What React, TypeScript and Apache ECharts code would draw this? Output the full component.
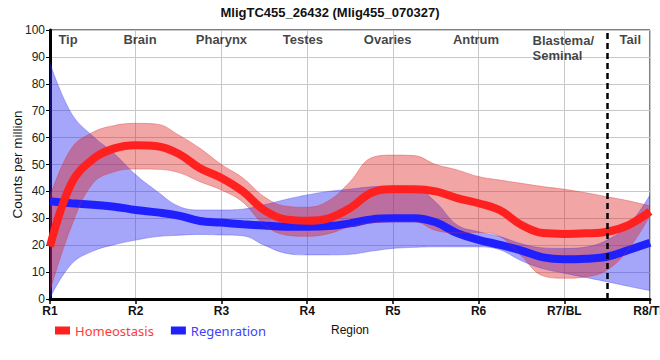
import React, { useEffect, useRef } from "react";
import * as echarts from "echarts";

const categories = ["R1", "R2", "R3", "R4", "R5", "R6", "R7/BL", "R8/TL"];
const xs = [1, 1.25, 1.5, 1.75, 2, 2.25, 2.5, 2.75, 3, 3.25, 3.5, 3.75, 4, 4.25, 4.5, 4.75, 5, 5.25, 5.5, 5.75, 6, 6.25, 6.5, 6.75, 7, 7.25, 7.5, 7.75, 8];

const homeoMean = [19.5, 43, 52, 56, 57.2, 56.8, 54, 48.6, 45, 40, 33, 29.6, 29.1, 30, 33.8, 39.5, 40.8, 40.8, 40, 37.5, 35.6, 33, 27.5, 24.5, 24.2, 24.4, 25, 27.5, 32.5];
const homeoUpper = [38, 56, 62, 64.5, 65.3, 65, 61, 56, 50, 45, 38, 34.5, 34.1, 36.5, 43.6, 52.5, 53.5, 53.3, 50, 48, 45.5, 44.2, 43, 41.8, 40.8, 39.5, 38, 36.5, 34.6];
const homeoLower = [3, 27, 43, 47.3, 48.3, 48.2, 47, 43.6, 40.5, 36, 27.5, 23.8, 23.3, 24.3, 26.9, 28.3, 28.7, 28.7, 25.5, 24.6, 24.7, 23.2, 16, 8.6, 7.7, 8.2, 10.8, 18.5, 31];

const regenMean = [36.3, 35.6, 35, 34.3, 33.1, 32.2, 31, 29, 28.4, 27.8, 27.3, 26.9, 26.9, 27.1, 28.1, 29.6, 30, 30, 28.5, 24.5, 22, 20.1, 18, 15.5, 14.8, 15, 15.7, 18.2, 20.9];
const regenUpper = [87.6, 69, 60.5, 54, 46.2, 40, 34.5, 33.1, 33.1, 33.4, 35, 37, 38.7, 40, 40.8, 41.7, 42, 41.5, 36, 27.5, 25, 23.2, 20.5, 19, 18.8, 19.3, 21.9, 27.5, 38.7];
const regenLower = [0.4, 13, 17.8, 20.2, 21.9, 23.2, 23.7, 24, 23.8, 23.5, 20, 17, 16.4, 16.4, 16.6, 17.8, 18.8, 19.2, 19.4, 19.4, 19.4, 18.3, 14.2, 11.3, 9.6, 8, 6.4, 4.7, 3.1];

const regionNames = ["Tip", "Brain", "Pharynx", "Testes", "Ovaries", "Antrum", "Blastema/\nSeminal", "Tail"];
const regionX = [1.21, 2.05, 3.0, 3.95, 4.94, 5.97, 6.63, 7.77];
const regionY = [96.3, 96.3, 96.3, 96.3, 96.3, 96.3, 96.3, 96.3];
const boundaryX = [7.5];

const SMOOTH = 0.4;

function band(name: string, lower: number[], upper: number[], fill: string, edge: string) {
  return [
    {
      name: name + "_lo",
      type: "line",
      stack: name,
      smooth: SMOOTH,
      symbol: "none",
      silent: true,
      lineStyle: { width: 1, color: edge },
      data: lower,
    },
    {
      name: name + "_band",
      type: "line",
      stack: name,
      smooth: SMOOTH,
      symbol: "none",
      silent: true,
      lineStyle: { width: 1, color: edge },
      areaStyle: { color: fill, opacity: 1 },
      data: upper.map((u, i) => +(u - lower[i]).toFixed(2)),
    },
  ];
}

export default function App() {
  const ref = useRef<HTMLDivElement>(null);
  useEffect(() => {
    document.body.style.margin = "0";
    const chart = echarts.init(ref.current!, null, { renderer: "svg" });
    const font = "Liberation Sans, Arial, sans-serif";
    const isInt = (i: number) => Math.abs(xs[i] - Math.round(xs[i])) < 1e-9;
    chart.setOption({
      animation: false,
      textStyle: { fontFamily: font },
      title: {
        text: "MligTC455_26432 (Mlig455_070327)",
        left: "center",
        top: 1,
        textStyle: { fontSize: 13, fontWeight: "bold", color: "#111", fontFamily: font },
      },
      legend: {
        left: 55,
        top: 324,
        padding: 0,
        icon: "rect",
        itemWidth: 15,
        itemHeight: 8,
        itemGap: 17,
        textStyle: { fontSize: 13, fontFamily: "Noto Sans, sans-serif" },
        data: [
          { name: "Homeostasis", textStyle: { color: "#ff3a3a" } },
          { name: "Regenration", textStyle: { color: "#4040ff" } },
        ],
      },
      grid: {
        left: 50,
        right: 10,
        top: 30,
        bottom: 61,
        show: true,
        borderColor: "#000",
        borderWidth: 1,
        containLabel: false,
        outerBoundsMode: "none",
      },
      xAxis: [
        {
          type: "category",
          data: xs.map(String),
          boundaryGap: false,
          name: "Region",
          nameLocation: "middle",
          nameGap: 25,
          nameMoveOverlap: false,
          nameTextStyle: { fontSize: 12, color: "#111" },
          axisLine: { lineStyle: { color: "#000", width: 3 } },
          axisTick: { show: true, length: 5, interval: (i: number) => isInt(i), lineStyle: { color: "#000", width: 1.5 } },
          axisLabel: {
            fontSize: 12,
            fontWeight: "bold",
            color: "#111",
            margin: 6,
            interval: (i: number) => isInt(i),
            formatter: (v: string) => categories[Math.round(Number(v)) - 1] ?? "",
          },
          splitLine: { show: true, interval: (i: number) => isInt(i), lineStyle: { color: "#c8c8c8", width: 1 } },
        },
        {
          type: "value",
          min: 1,
          max: 8,
          interval: 1,
          show: false,
          splitLine: { show: false },
        },
      ],
      yAxis: {
        type: "value",
        min: 0,
        max: 100,
        interval: 10,
        name: "Counts per million",
        nameLocation: "middle",
        nameGap: 26,
        nameMoveOverlap: false,
        nameTextStyle: { fontSize: 13.5, color: "#111" },
        axisLine: { show: true, lineStyle: { color: "#000", width: 3 } },
        axisTick: { show: true, length: 4, lineStyle: { color: "#000", width: 1 } },
        axisLabel: { fontSize: 12, color: "#222", margin: 5 },
        splitLine: { show: true, lineStyle: { color: "#c8c8c8", width: 1 } },
      },
      series: [
        ...band("regen", regenLower, regenUpper, "rgba(40,40,240,0.42)", "rgba(60,60,240,0.35)"),
        {
          name: "Regenration",
          type: "line",
          smooth: SMOOTH,
          symbol: "none",
          itemStyle: { color: "#2020ff" },
          lineStyle: { width: 8, color: "#2020ff" },
          data: regenMean,
        },
        ...band("homeo", homeoLower, homeoUpper, "rgba(220,30,30,0.4)", "rgba(220,50,50,0.35)"),
        {
          name: "Homeostasis",
          type: "line",
          smooth: SMOOTH,
          symbol: "none",
          itemStyle: { color: "#ff2020" },
          lineStyle: { width: 8, color: "#ff2020" },
          data: homeoMean,
        },
        {
          name: "regions",
          type: "scatter",
          xAxisIndex: 1,
          symbolSize: 0,
          silent: true,
          data: regionNames.map((n, i) => ({
            name: n,
            value: [regionX[i], regionY[i]],
            label: i === 6 ? { align: "left", verticalAlign: "top", position: [0, -7] } : undefined,
          })),
          label: {
            show: true,
            position: "inside",
            formatter: (p: any) => p.name,
            fontSize: 13,
            fontWeight: "bold",
            color: "#111",
            lineHeight: 15,
            fontFamily: font,
          },
          markLine: {
            silent: true,
            symbol: "none",
            label: { show: false },
            lineStyle: { type: [6, 4], color: "#000", width: 2.5 },
            data: boundaryX.map((x) => ({ xAxis: x })),
          },
        },
      ],
    });
    return () => chart.dispose();
  }, []);
  return <div ref={ref} style={{ width: 660, height: 360 }} />;
}
